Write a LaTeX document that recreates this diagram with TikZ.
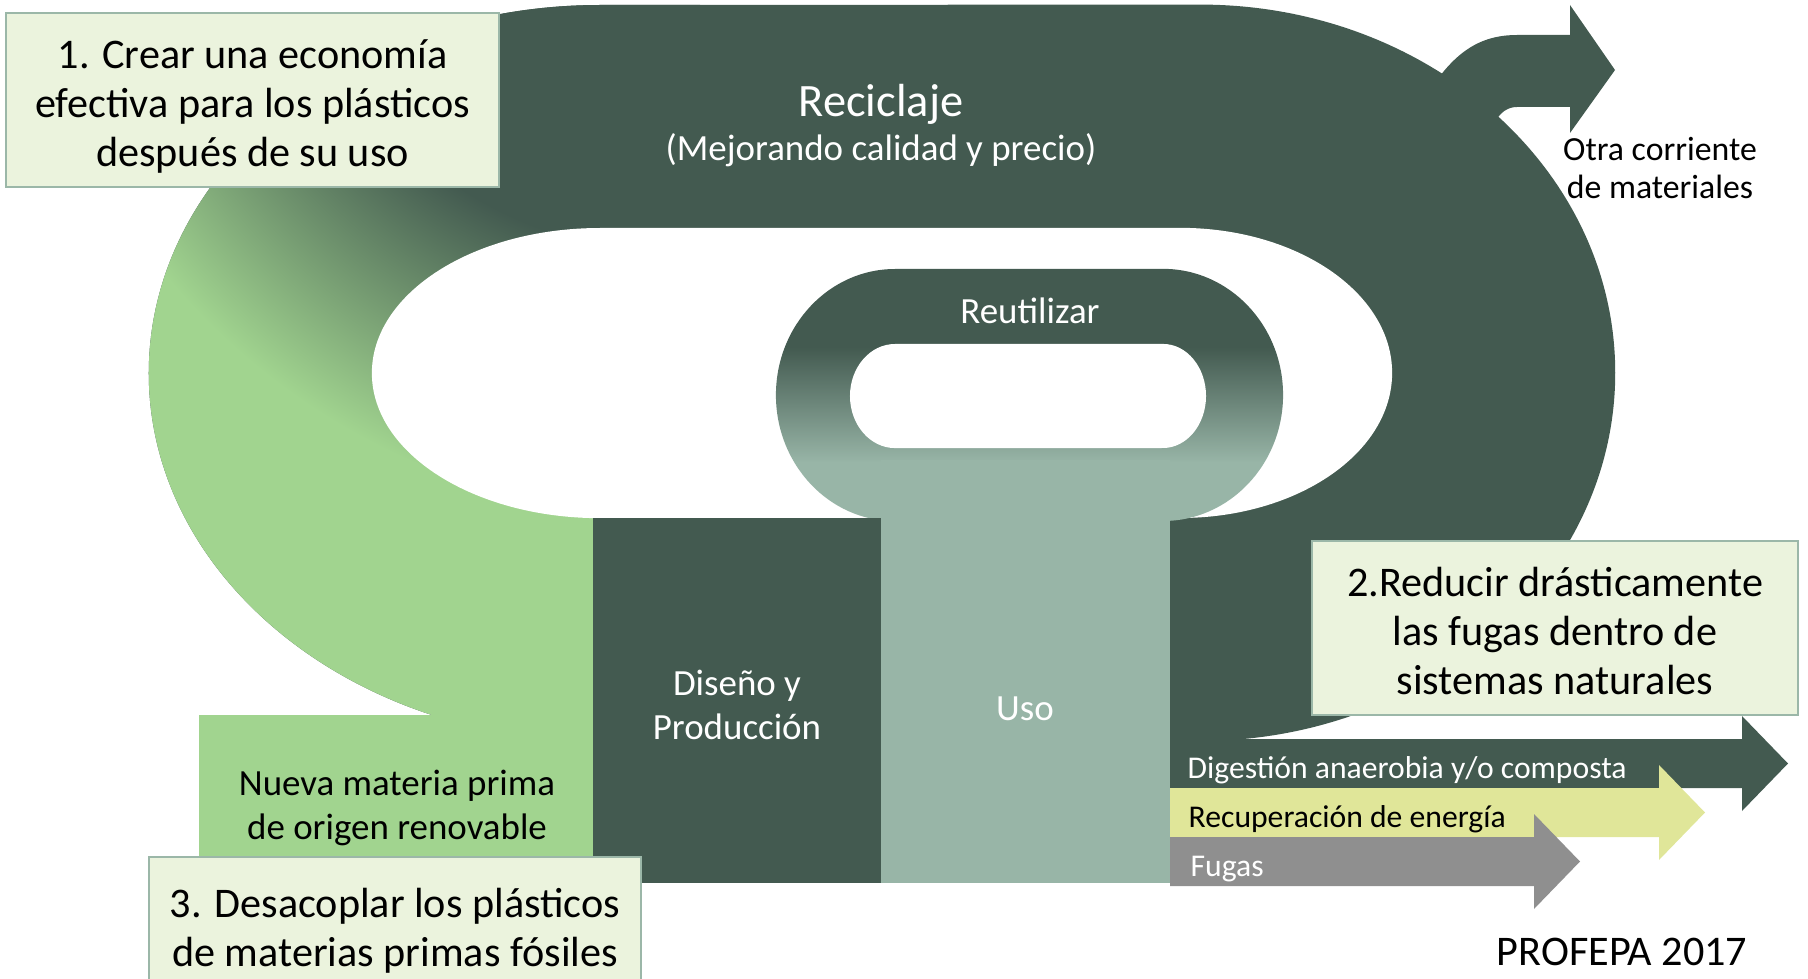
\documentclass[tikz,border=0pt]{standalone}
\usepackage{fontspec}
\setmainfont{Carlito}
\usetikzlibrary{positioning}

\definecolor{darkg}{HTML}{435A50}
\definecolor{lightg}{HTML}{A1D48F}
\definecolor{usog}{HTML}{98B5A7}
\definecolor{boxfill}{HTML}{EBF3DD}
\definecolor{boxline}{HTML}{9BB7A8}
\definecolor{energyg}{HTML}{E0E699}
\definecolor{leakg}{HTML}{8F8F8F}

\pgfdeclareradialshading{ribbonfade}{\pgfpoint{0bp}{0bp}}{color(0bp)=(darkg); color(8.44bp)=(darkg); color(13.96bp)=(lightg); color(50bp)=(lightg)}
\pgfdeclareverticalshading{reusefade}{100bp}{color(0bp)=(usog); color(36.6bp)=(usog); color(59.5bp)=(darkg); color(100bp)=(darkg)}

\begin{document}
\begin{tikzpicture}[x=0.01cm, y=-0.01cm,
  every node/.style={inner sep=0pt},
  goalbox/.style={draw=boxline, line width=0.6pt, fill=boxfill},
  goaltext/.style={align=center, font=\fontsize{12}{14}\selectfont},
  lbl/.style={align=center, font=\fontsize{10.5}{12.5}\selectfont},
  wlbl/.style={lbl, text=white},
  flow/.style={anchor=base west, font=\fontsize{9}{11}\selectfont},
]
  \useasboundingbox (0,0) rectangle (1808,979);
  \fill[darkg, path picture={
      \clip (0,0) rectangle (700,979);
      \shade[shading=ribbonfade] (-519,-1352) rectangle (1881,1048);}]
    (600,5) arc[start angle=90, end angle=270, x radius=4.51cm, y radius=3.68cm]
    -- (1200,741) arc[start angle=-90, end angle=90, x radius=4.15cm, y radius=3.68cm] -- cycle;
  \fill[white] (600,228) arc[start angle=90, end angle=270, x radius=2.28cm, y radius=1.45cm]
    -- (1180,518) arc[start angle=-90, end angle=90, x radius=2.12cm, y radius=1.45cm] -- cycle;
  \fill[darkg] (1430,90) .. controls (1455,52) and (1480,35) .. (1517,35) -- (1570,35) -- (1570,5)
    -- (1615,70) -- (1570,133) -- (1570,107) -- (1517,107) .. controls (1507,107) and (1500,113) .. (1495,122)
    -- (1450,130) -- cycle;
  \fill[lightg] (199,715) rectangle (593,862);

  \shade[shading=reusefade] (895,269) arc[start angle=90, end angle=270, x radius=1.19cm, y radius=1.26cm]
    -- (1163,521) arc[start angle=-90, end angle=90, x radius=1.2cm, y radius=1.26cm] -- cycle;
  \fill[white] (895,344) arc[start angle=90, end angle=270, x radius=0.45cm, y radius=0.52cm]
    -- (1163,448) arc[start angle=-90, end angle=90, x radius=0.43cm, y radius=0.52cm] -- cycle;
  \fill[darkg] (593,518) rectangle (881,883);
  \fill[usog] (881,460) rectangle (1170,883);

  \foreach \c/\t/\e in {darkg/739/1742, energyg/788/1659, leakg/837/1534}
    \fill[\c] (1170,\t) -- (\e,\t) -- (\e,\t-23) -- (\e+46,\t+24.5) -- (\e,\t+72) -- (\e,\t+49) -- (1170,\t+49) -- cycle;

  \node[wlbl] (recicla) at (881,125.5) {{\fontsize{13.2}{15}\selectfont Reciclaje}\\(Mejorando calidad y precio)};
  \node[wlbl] (reuse) at (1030,311) {Reutilizar};
  \node[wlbl] (diseno) at (737,705) {Diseño y\\Producción};
  \node[wlbl] (uso) at (1025,708.5) {Uso};
  \node[lbl] (nueva) at (397,808) {Nueva materia prima\\de origen renovable};
  \node[align=center, font=\fontsize{9.6}{11}\selectfont] (otra) at (1660,168) {Otra corriente\\de materiales};
  \node[flow, text=white] (digest) at (1187,778) {Digestión anaerobia y/o composta};
  \node[flow] (energia) at (1188,827) {Recuperación de energía};
  \node[flow, text=white] (fugas) at (1190,876) {Fugas};

  \node[goalbox, minimum width=4.93cm, minimum height=1.74cm] (goal1) at (252.5,100) {};
  \node[goaltext] (goal1txt) at (252.5,106.5) {1. Crear una economía\\efectiva para los plásticos\\después de su uso};
  \node[goalbox, minimum width=4.86cm, minimum height=1.74cm] (goal2) at (1555,628) {};
  \node[goaltext] (goal2txt) at (1555,631) {2.Reducir drásticamente\\las fugas dentro de\\sistemas naturales};
  \node[goalbox, minimum width=4.92cm, minimum height=1.3cm] (goal3) at (395,922) {};
  \node[goaltext] (goal3txt) at (395,930.5) {3. Desacoplar los plásticos\\de materias primas fósiles};
  \node[goaltext] (profepa) at (1622,952) {PROFEPA 2017};
\end{tikzpicture}
\end{document}
